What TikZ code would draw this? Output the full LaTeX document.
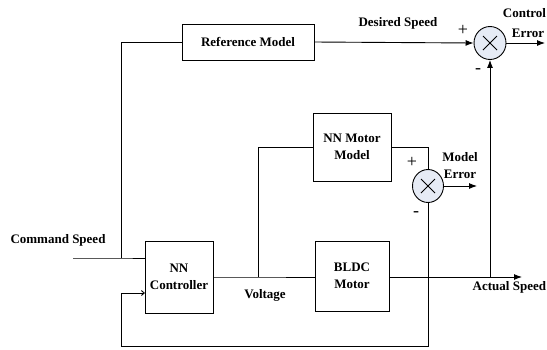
\documentclass[tikz,border=0pt]{standalone}
\usepackage{fontspec}
\setmainfont{Liberation Serif}
\usetikzlibrary{arrows.meta,shapes.geometric}
\definecolor{sumfill}{HTML}{E6EBF5}
\begin{document}
\begin{tikzpicture}[x=1pt,y=-1pt,
  line width=0.9pt,
  blk/.style={draw,rectangle,inner sep=0pt,fill=white},
  sumnode/.style={draw,ellipse,fill=sumfill,inner sep=0pt},
  lbl/.style={font=\bfseries\fontsize{13}{17}\selectfont,inner sep=0pt,align=center},
  sgn/.style={font=\fontsize{18}{18}\selectfont,inner sep=0pt},
  arr/.style={-{Latex[length=8pt,width=6pt]}},
  open/.style={-{Straight Barb[length=3pt,width=5pt]}}
]
\useasboundingbox (0,0) rectangle (547,349);
% blocks
\node[blk,minimum width=132pt,minimum height=36pt] (ref) at (248,42) {};
\node[lbl] at (ref) {Reference Model};
\node[blk,minimum width=78pt,minimum height=68pt] (nnm) at (352,147) {};
\node[lbl] at (nnm) {NN Motor\\Model};
\node[blk,minimum width=68pt,minimum height=72pt] (ctl) at (179,277) {};
\node[lbl] at (ctl) {NN\\Controller};
\node[blk,minimum width=74pt,minimum height=70pt] (bldc) at (352,276) {};
\node[lbl] at (bldc) {BLDC\\Motor};
% summing junctions
\node[sumnode,minimum width=32pt,minimum height=33pt] (s1) at (490,43) {};
\draw[line width=0.8pt] ([shift={(-7,-7)}]s1.center) -- ([shift={(7,7)}]s1.center);
\draw[line width=0.8pt] ([shift={(-7,7)}]s1.center) -- ([shift={(7,-7)}]s1.center);
\node[sumnode,minimum width=31pt,minimum height=33pt] (s2) at (428,186) {};
\draw[line width=0.8pt] ([shift={(-7,-7)}]s2.center) -- ([shift={(7,7)}]s2.center);
\draw[line width=0.8pt] ([shift={(-7,7)}]s2.center) -- ([shift={(7,-7)}]s2.center);
% coordinates
\coordinate (cmdin) at (73,258);
\coordinate (jcmd) at (121,258);
\coordinate (jv) at (258,277);
\coordinate (jact2) at (490,277);
\coordinate (actout) at (522,277);
\coordinate (ctlout) at (545,43);
\coordinate (merr) at (477,186);
\coordinate (fbR) at (428,346);
\coordinate (fbL) at (121,346);
\coordinate (fbin) at (145,293);
% connectors
\draw (cmdin) -- (jcmd) -- (ctl.west |- jcmd);
\draw (jcmd) |- (ref.west);
\draw[arr] (ref.east) -- (s1.west);
\draw[arr] (s1.east) -- (ctlout);
\draw (ctl.east |- jv) -- (jv) -- (bldc.west |- jv);
\draw (jv) |- (nnm.west);
\draw (nnm.east) -| (s2.north);
\draw[arr] (s2.east) -- (merr);
\draw[arr] (bldc.east |- actout) -- (actout);
\draw[arr] (jact2) -- (s1.south);
\draw[open] (s2.south) -- (fbR) -- (fbL) |- (fbin);
% labels
\node[lbl] (t1) at (398,23) {Desired Speed};
\node[lbl,anchor=east] (t2) at (546.5,13) {Control};
\node[lbl] (t3) at (528,33) {Error};
\node[sgn] (p1) at (463,30) {+};
\node[sgn] (m1) at (478,71) {-};
\node[lbl] (t4) at (460,166) {Model\\Error};
\node[sgn] (p2) at (412,162) {+};
\node[sgn] (m2) at (416,214) {-};
\node[lbl] (t5) at (265,295) {Voltage};
\node[lbl,anchor=east] (t6) at (546.5,287) {Actual Speed};
\node[lbl] (t7) at (58,240) {Command Speed};
\end{tikzpicture}
\end{document}
